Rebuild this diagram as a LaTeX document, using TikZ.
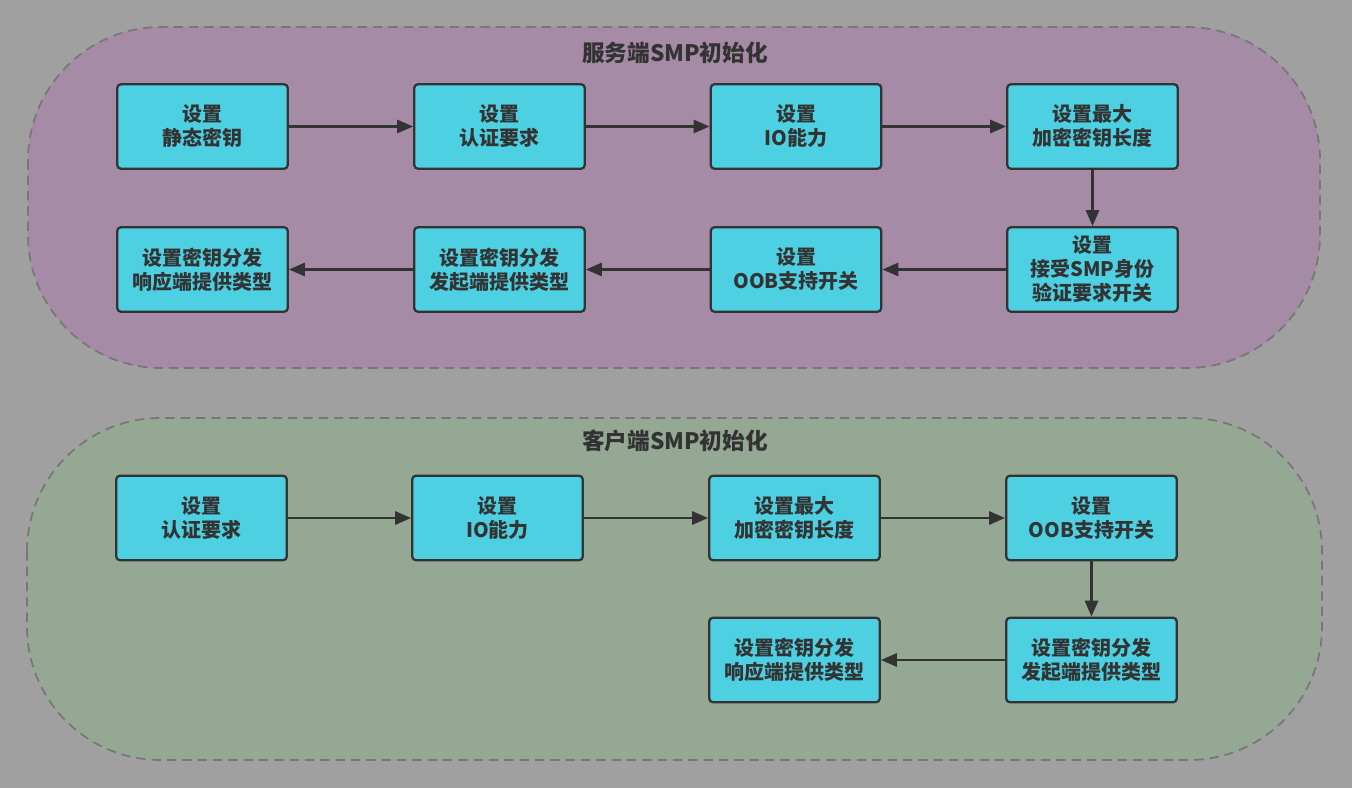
\documentclass[tikz,border=0pt]{standalone}
\usepackage{fontspec}
\setmainfont{Noto Sans CJK SC}
\usetikzlibrary{arrows.meta}
\definecolor{bggray}{HTML}{A0A0A0}
\definecolor{purplefill}{HTML}{A58BA6}
\definecolor{greenfill}{HTML}{94A894}
\definecolor{boxfill}{HTML}{4DD0E1}
\definecolor{ink}{HTML}{333333}
\definecolor{dashgray}{HTML}{777777}
\tikzset{
  px/.style={x=0.75pt,y=-0.75pt},
  stepbox/.style={draw=ink, line width=1.7pt, fill=boxfill, rounded corners=3pt,
    minimum width=128pt, minimum height=63.5pt, align=center, text=ink,
    font=\fontsize{15pt}{18pt}\selectfont\bfseries, inner sep=0pt},
  group/.style={draw=dashgray, line width=1.3pt, dash pattern=on 7pt off 4.5pt, rounded corners=100pt},
  conn/.style={draw=ink, line width=1.6pt, -{Triangle[length=12pt,width=10pt]}},
  gtitle/.style={text=ink, font=\fontsize{17pt}{20pt}\selectfont\bfseries}
}
\begin{document}
\begin{tikzpicture}[px]
\fill[bggray] (0,0) rectangle (1352,788);
\useasboundingbox (0,0) rectangle (1352,788);
% containers
\draw[group, fill=purplefill] (28,27) rectangle (1320,368);
\draw[group, fill=greenfill] (27,418) rectangle (1322,760);
\node[gtitle] (t1) at (675,53) {服务端SMP初始化};
\node[gtitle] (t2) at (675,441) {客户端SMP初始化};
% server
\node[stepbox] (s1) at (202.5,126.5) {设置\\静态密钥};
\node[stepbox] (s2) at (499.5,126.5) {设置\\认证要求};
\node[stepbox] (s3) at (796,126.5) {设置\\IO能力};
\node[stepbox] (s4) at (1092.5,126.5) {设置最大\\加密密钥长度};
\node[stepbox] (s5) at (1092.5,269.5) {设置\\接受SMP身份\\验证要求开关};
\node[stepbox] (s6) at (796,269.5) {设置\\OOB支持开关};
\node[stepbox] (s7) at (499.5,269.5) {设置密钥分发\\发起端提供类型};
\node[stepbox] (s8) at (202.5,269.5) {设置密钥分发\\响应端提供类型};
\draw[conn] (s1) -- (s2);
\draw[conn] (s2) -- (s3);
\draw[conn] (s3) -- (s4);
\draw[conn] (s4) -- (s5);
\draw[conn] (s5) -- (s6);
\draw[conn] (s6) -- (s7);
\draw[conn] (s7) -- (s8);
% client
\node[stepbox] (c1) at (201.5,518) {设置\\认证要求};
\node[stepbox] (c2) at (497.5,518) {设置\\IO能力};
\node[stepbox] (c3) at (794.5,518) {设置最大\\加密密钥长度};
\node[stepbox] (c4) at (1091.5,518) {设置\\OOB支持开关};
\node[stepbox] (c5) at (1091.5,660) {设置密钥分发\\发起端提供类型};
\node[stepbox] (c6) at (794.5,660) {设置密钥分发\\响应端提供类型};
\draw[conn] (c1) -- (c2);
\draw[conn] (c2) -- (c3);
\draw[conn] (c3) -- (c4);
\draw[conn] (c4) -- (c5);
\draw[conn] (c5) -- (c6);
\end{tikzpicture}
\end{document}
